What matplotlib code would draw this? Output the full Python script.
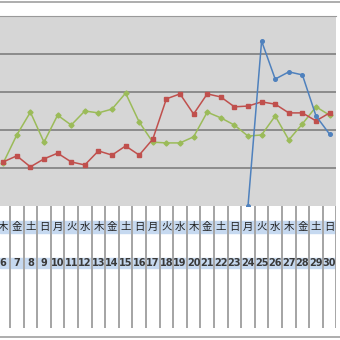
import matplotlib
matplotlib.use('Agg')
import matplotlib.pyplot as plt

# データ (6日〜30日)
days = list(range(6, 31))
weekdays = ['木', '金', '土', '日', '月', '火', '水', '木', '金', '土', '日', '月', '火',
            '水', '木', '金', '土', '日', '月', '火', '水', '木', '金', '土', '日']
red_values = [11.6, 13.2, 10.3, 12.4, 13.9, 11.6, 10.8, 14.5, 13.4, 15.8, 13.4, 17.6, 28.2,
              29.5, 24.2, 29.5, 28.7, 26.1, 26.3, 27.4, 26.8, 24.5, 24.5, 22.4, 24.5]
green_values = [11.3, 18.7, 24.7, 16.8, 23.9, 21.3, 25.0, 24.5, 25.5, 29.7, 22.1, 16.8, 16.6,
                16.6, 18.2, 24.7, 23.2, 21.3, 18.4, 18.7, 23.7, 17.4, 21.6, 26.1, 23.9]
blue_days = [24, 25, 26, 27, 28, 29, 30]
blue_values = [0, 43.4, 33.4, 35.3, 34.5, 23.7, 18.9]
grid_values = [10, 20, 30, 40]

W, H = 340, 340
fig = plt.figure(figsize=(W / 100, H / 100), dpi=100)
fig.patch.set_facecolor('white')

def px_axes(x0, y0, x1, y1):
    # 画像座標(左上原点)で軸を作る
    return fig.add_axes([x0 / W, 1 - y1 / H, (x1 - x0) / W, (y1 - y0) / H])

xlim = (6 - 3.2 / 13.6, 30 + 6.4 / 13.6)

# グラフ部分
ax = px_axes(0, 16, 336, 206)
ax.set_facecolor('#d6d6d6')
ax.set_xlim(*xlim)
ax.set_ylim(0, 50)
for g in grid_values:
    ax.axhline(g, color='#7f7f7f', lw=1.2, zorder=1)
ax.plot(days, green_values, color='#9bbb59', lw=1.1, marker='D', ms=2.6, zorder=3)
ax.plot(days, red_values, color='#c0504d', lw=1.1, marker='s', ms=3.3, zorder=4)
ax.plot(blue_days, blue_values, color='#4f81bd', lw=1.1, marker='o', ms=2.6, zorder=5)
ax.set_xticks([])
ax.set_yticks([])
for s in ax.spines.values():
    s.set_visible(False)
ax.spines['top'].set_visible(True)
ax.spines['top'].set_color('#9a9a9a')

# 表部分
tb = px_axes(0, 206, 336, 328)
tb.set_xlim(*xlim)
tb.set_ylim(122, 0)
tb.axhspan(15, 27, color='#c6d9f0', zorder=0)
tb.axhspan(52, 62, color='#c6d9f0', zorder=0)
for d in days:
    tb.axvline(d + 0.5, color='#a6a6a6', lw=1.4, zorder=2)
    tb.axvline(d - 0.5, color='#a6a6a6', lw=1.4, zorder=2)
for d, w in zip(days, weekdays):
    tb.text(d, 21, w, ha='center', va='center', fontsize=7.5,
            family=['Noto Sans CJK JP', 'DejaVu Sans'], color='#222222', zorder=3)
    tb.text(d, 57, str(d), ha='center', va='center', fontsize=7,
            fontweight='bold', color='#3a3a3a', zorder=3)
tb.axis('off')

# 上下の枠線
fig.add_artist(plt.Line2D([0, 1], [1 - 1.5 / H, 1 - 1.5 / H], color='#a0a0a0', lw=1.2))
fig.add_artist(plt.Line2D([0, 1], [1 - 337 / H, 1 - 337 / H], color='#a0a0a0', lw=1.2))

fig.savefig('out.png', dpi=100)
